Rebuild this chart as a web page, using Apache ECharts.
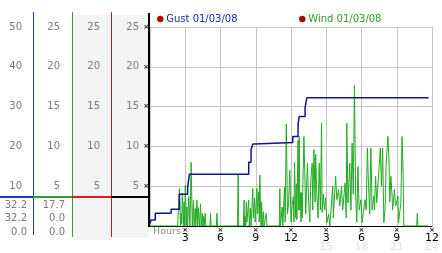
<!DOCTYPE html>
<html><head><meta charset="utf-8">
<script src="https://cdn.jsdelivr.net/npm/echarts@6/dist/echarts.min.js"></script>
<style>html,body{margin:0;padding:0;background:#fff}#c{width:442px;height:253px}</style>
</head><body><div id="c"></div>
<script>
// ---- data ----
const gustHours  = [0.0, 0.1, 0.45, 1.8, 2.5, 3.2, 3.35, 8.4, 8.6, 8.75, 8.95, 12.15, 12.6, 12.7, 13.2, 13.35, 23.7];
const gustSpeeds = [0.3, 0.75, 1.6, 2.1, 4.0, 4.75, 6.5, 8.0, 9.6, 10.3, 10.5, 11.25, 12.8, 13.75, 14.9, 16.1, 16.1];

const windHours = [0, 2.35,
  2.45, 2.5, 2.6, 2.65, 2.7, 2.75, 2.85, 2.9, 2.95, 3.0, 3.1, 3.15, 3.2, 3.3, 3.4, 3.5, 3.6, 3.7, 3.75, 3.85, 3.9, 4.0, 4.05, 4.1, 4.2, 4.3, 4.35, 4.45, 4.5, 4.55, 4.6, 4.7, 4.75, 5.1, 5.15, 5.2, 5.65, 5.7, 5.75,
  7.45, 7.5, 7.55, 7.95, 8.0, 8.05, 8.1, 8.15, 8.2, 8.25, 8.4, 8.45, 8.55, 8.6, 8.75, 8.8, 8.9, 8.95, 9.1, 9.15, 9.25, 9.3, 9.35, 9.4, 9.45, 9.5, 9.55, 9.65, 9.7, 9.9, 9.95,
  11.0, 11.05, 11.1, 11.25, 11.3, 11.45, 11.5, 11.6, 11.7, 11.8, 11.9, 12.0, 12.1, 12.2, 12.25, 12.3, 12.4, 12.45, 12.5, 12.6, 12.65, 12.7, 12.75, 12.8, 12.85, 12.9, 12.95,
  13.1, 13.2, 13.25, 13.4, 13.5, 13.6, 13.7, 13.8, 13.85, 13.95, 14.05, 14.1, 14.2, 14.3, 14.4, 14.5, 14.6, 14.65, 14.75, 14.85, 14.95, 15.05, 15.1, 15.2, 15.3,
  15.45, 15.55, 15.6, 15.8, 15.9, 16.05, 16.15, 16.3, 16.4, 16.6, 16.7, 16.75, 16.85, 17.0, 17.1, 17.2, 17.3, 17.4, 17.5, 17.6, 17.7, 17.8, 17.95, 18.05,
  18.2, 18.3, 18.4, 18.5, 18.6, 18.7, 18.8, 18.9, 19.05, 19.1, 19.2, 19.3, 19.4, 19.5, 19.6, 19.7, 19.8, 19.9, 20.0, 20.1, 20.25, 20.35, 20.4, 20.5, 20.6, 20.65,
  20.8, 20.9, 21.0, 21.1, 21.15, 21.25, 21.35, 21.45, 21.55, 21.6, 22.7, 22.75, 22.8, 23.7];
const windSpeeds = [0, 0,
  0, 4.7, 0, 1.6, 0.3, 4.1, 0, 3.0, 0, 5.1, 0, 2.4, 0, 3.7, 0, 8.0, 0, 3.25, 0, 2.2, 0, 3.25, 0, 2.3, 0, 2.8, 0, 1.6, 0, 1.2, 0, 1.6, 0, 0, 1.6, 0, 0, 1.6, 0,
  0, 6.5, 0, 0, 3.25, 0, 1.2, 0, 3.0, 0.5, 3.25, 0, 2.2, 0, 4.7, 1.0, 3.5, 0.5, 4.7, 1.5, 4.3, 0.5, 6.4, 2.4, 0, 3.0, 0, 1.8, 0, 1.6, 0,
  0, 4.7, 0, 2.4, 0, 4.9, 0.5, 12.8, 1.5, 3.0, 7.0, 0.5, 2.6, 3.7, 0.5, 8.0, 1.0, 5.3, 0.8, 10.75, 2.0, 11.25, 2.0, 4.2, 0.5, 4.2, 1.0,
  11.25, 5.0, 1.5, 7.9, 2.9, 0.5, 6.25, 7.9, 2.0, 9.6, 3.0, 9.0, 4.0, 1.0, 7.9, 2.0, 12.9, 1.7, 4.0, 2.0, 3.5, 0.4, 0.4, 1.5, 0,
  2.9, 5.0, 1.0, 6.25, 3.3, 4.6, 2.5, 5.0, 2.0, 5.4, 1.0, 12.9, 2.9, 7.9, 2.0, 10.4, 4.0, 17.7, 4.0, 0.5, 7.5, 2.0, 3.3, 0.4,
  0.4, 3.3, 2.0, 9.8, 5.0, 1.5, 9.8, 2.0, 3.75, 2.0, 6.25, 2.9, 3.0, 7.5, 9.8, 5.0, 9.8, 0.4, 2.0, 7.9, 11.25, 7.9, 3.0, 6.25, 3.75, 2.0,
  4.6, 2.5, 3.0, 3.75, 0.4, 0.4, 2.9, 11.25, 6.25, 0, 0, 1.6, 0, 0];

const legendNames = ['Gust 01/03/08', 'Wind 01/03/08'];
const gustStats = ['32.2', '32.2', '0.0'];
const windStats = ['17.7', '0.0', '0.0'];
const hourTicksTop = ['3', '6', '9', '12', '3', '6', '9', '12'];
const hourTicksFaint = ['', '', '', '', '15', '18', '21', '24'];

// ---- chart ----
const FONT = 'DejaVu Sans';
const GRAY = '#7a7a7a';
const TOP = 27, BOTTOM = 27;
const colLines = [33, 72, 111]; // left panel column axes
const chart = echarts.init(document.getElementById('c'), null, {renderer: 'canvas'});

function colGrid(left) { return {left: left, width: 1, top: TOP, bottom: BOTTOM, containLabel: false}; }
function colY(gi, max, interval, margin) {
  return {type: 'value', gridIndex: gi, min: 0, max: max, interval: interval, position: 'left',
    axisLine: {show: false}, axisTick: {show: false}, splitLine: {show: false},
    axisLabel: {showMinLabel: false, margin: margin, color: GRAY, fontFamily: FONT, fontSize: 10}};
}
function hiddenX(gi) { return {type: 'value', gridIndex: gi, show: false, min: 0, max: 1}; }

const tickIdx = v => Math.round(v / 3) - 1;

const option = {
  animation: false,
  backgroundColor: '#fff',
  textStyle: {fontFamily: FONT},
  legend: [
    {left: 157, top: 14, padding: 0, icon: 'circle', itemWidth: 6, itemHeight: 6, selectedMode: false,
     textStyle: {fontFamily: FONT, fontSize: 10, padding: [0, 0, 0, -2]},
     data: [{name: legendNames[0], itemStyle: {color: '#c00000', borderColor: '#500', borderWidth: 0.5}, textStyle: {color: '#1c2ca0'}}]},
    {left: 299, top: 14, padding: 0, icon: 'circle', itemWidth: 6, itemHeight: 6, selectedMode: false,
     textStyle: {fontFamily: FONT, fontSize: 10, padding: [0, 0, 0, -2]},
     data: [{name: legendNames[1], itemStyle: {color: '#c00000', borderColor: '#500', borderWidth: 0.5}, textStyle: {color: '#2e9a2e'}}]}
  ],
  graphic: [
    {type: 'rect', z: -10, shape: {x: 73, y: 15, width: 38, height: 225}, style: {fill: '#f4f4f4'}},
    {type: 'rect', z: -10, shape: {x: 112, y: 15, width: 37, height: 223}, style: {fill: '#f4f4f4'}},
    {type: 'line', z: 50, shape: {x1: 33.5, y1: 12, x2: 33.5, y2: 235}, style: {stroke: '#1f3fa8', lineWidth: 1}},
    {type: 'line', z: 50, shape: {x1: 72.5, y1: 12, x2: 72.5, y2: 237}, style: {stroke: '#2ea02e', lineWidth: 1}},
    {type: 'line', z: 50, shape: {x1: 111.5, y1: 12, x2: 111.5, y2: 237}, style: {stroke: '#b02222', lineWidth: 1}},
    {type: 'line', z: 50, shape: {x1: 149, y1: 13, x2: 149, y2: 227}, style: {stroke: '#000', lineWidth: 2}},
    {type: 'line', z: 50, shape: {x1: 0, y1: 197, x2: 33, y2: 197}, style: {stroke: '#1f3fa8', lineWidth: 2}},
    {type: 'line', z: 50, shape: {x1: 33, y1: 197, x2: 72, y2: 197}, style: {stroke: '#2ea02e', lineWidth: 2}},
    {type: 'line', z: 50, shape: {x1: 72, y1: 197, x2: 111, y2: 197}, style: {stroke: '#e01a1a', lineWidth: 2}},
    {type: 'line', z: 50, shape: {x1: 111, y1: 197, x2: 150, y2: 197}, style: {stroke: '#000', lineWidth: 2}},
    {type: 'text', left: 153, top: 227, style: {text: 'Hours', fill: '#8a8a8a', font: '9.5px "DejaVu Sans"'}}
  ].concat(
    gustStats.map((t, i) => ({type: 'text', z: 50, style: {text: t, x: 27, y: 205 + i * 13.5, align: 'right', verticalAlign: 'middle', fill: GRAY, font: '10px "DejaVu Sans"'}})),
    windStats.map((t, i) => ({type: 'text', z: 50, style: {text: t, x: 65, y: 205 + i * 13.5, align: 'right', verticalAlign: 'middle', fill: GRAY, font: '10px "DejaVu Sans"'}}))
  ),
  grid: [
    {left: 150, right: 4, top: TOP, bottom: BOTTOM},
    colGrid(colLines[0]), colGrid(colLines[1]), colGrid(colLines[2])
  ],
  xAxis: [
    {type: 'value', gridIndex: 0, min: 0, max: 24, interval: 3,
     axisLine: {show: true, lineStyle: {color: '#000', width: 1}}, axisTick: {show: false},
     splitLine: {show: true, lineStyle: {color: '#c4c4c4', width: 1}},
     axisLabel: {showMinLabel: false, margin: 1, color: '#222', fontSize: 7, fontWeight: 'bold', formatter: () => '×'}},
    {type: 'value', gridIndex: 0, min: 0, max: 24, interval: 3, position: 'bottom',
     axisLine: {show: false}, axisTick: {show: false}, splitLine: {show: false},
     axisLabel: {showMinLabel: false, margin: 7, color: '#000', fontFamily: FONT, fontSize: 11,
       formatter: v => hourTicksTop[tickIdx(v)] || ''}},
    {type: 'value', gridIndex: 0, min: 0, max: 24, interval: 3, position: 'bottom',
     axisLine: {show: false}, axisTick: {show: false}, splitLine: {show: false},
     axisLabel: {showMinLabel: false, margin: 16, color: '#e2e2e2', fontFamily: FONT, fontSize: 11,
       formatter: v => hourTicksFaint[tickIdx(v)] || ''}},
    hiddenX(1), hiddenX(2), hiddenX(3)
  ],
  yAxis: [
    {type: 'value', gridIndex: 0, min: 0, max: 25, interval: 5, position: 'left',
     axisLine: {show: false}, axisTick: {show: false},
     splitLine: {show: true, lineStyle: {color: '#c4c4c4', width: 1}},
     axisLabel: {showMinLabel: false, margin: 11, color: GRAY, fontFamily: FONT, fontSize: 10}},
    {type: 'value', gridIndex: 0, min: 0, max: 25, interval: 5, position: 'left',
     axisLine: {show: false}, axisTick: {show: false}, splitLine: {show: false},
     axisLabel: {showMinLabel: false, margin: 1, color: '#222', fontSize: 7, fontWeight: 'bold', formatter: () => '×'}},
    colY(1, 50, 10, 11), colY(2, 25, 5, 12), colY(3, 25, 5, 11)
  ],
  series: [
    {name: legendNames[1], type: 'line', xAxisIndex: 0, yAxisIndex: 0, showSymbol: false, symbol: 'none',
     data: windHours.map((h, i) => [h, windSpeeds[i]]),
     lineStyle: {color: '#22aa22', width: 1}, itemStyle: {color: '#22aa22'}, z: 3},
    {name: legendNames[0], type: 'line', xAxisIndex: 0, yAxisIndex: 0, showSymbol: false, symbol: 'none', step: 'end',
     data: gustHours.map((h, i) => [h, gustSpeeds[i]]),
     lineStyle: {color: '#10148c', width: 1.5}, itemStyle: {color: '#10148c'}, z: 4}
  ]
};
chart.setOption(option);
</script>
</body></html>
